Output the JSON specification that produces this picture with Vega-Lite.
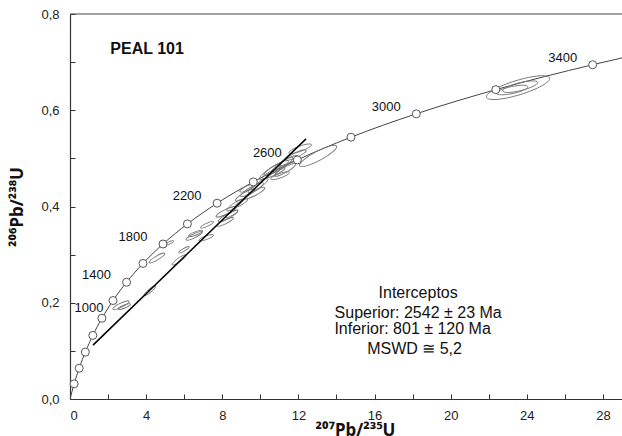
{
  "$schema": "https://vega.github.io/schema/vega-lite/v6.json",
  "width": 552,
  "height": 385,
  "autosize": {"type": "none"},
  "padding": {"left": 70, "top": 14, "right": 0, "bottom": 37},
  "background": "white",
  "config": {
    "view": {"stroke": null},
    "font": "Liberation Sans",
    "axis": {
      "domainColor": "#333",
      "domainWidth": 1.2,
      "tickColor": "#333",
      "tickSize": -5,
      "labelFontSize": 13,
      "labelColor": "#222",
      "labelFont": "Liberation Sans",
      "titleFont": "Noto Sans",
      "titleFontSize": 17,
      "titleFontWeight": "bold",
      "titleColor": "#111",
      "grid": false
    }
  },
  "datasets": {
    "concordia": [
      {"t": 0, "x": 0, "y": 0},
      {"t": 200, "x": 0.2177, "y": 0.0315},
      {"t": 400, "x": 0.4828, "y": 0.0640},
      {"t": 600, "x": 0.8056, "y": 0.0975},
      {"t": 800, "x": 1.1987, "y": 0.1321},
      {"t": 1000, "x": 1.6774, "y": 0.1678, "lab": "1000"},
      {"t": 1200, "x": 2.2602, "y": 0.2046},
      {"t": 1400, "x": 2.9701, "y": 0.2426, "lab": "1400"},
      {"t": 1600, "x": 3.8344, "y": 0.2817},
      {"t": 1800, "x": 4.8868, "y": 0.3221, "lab": "1800"},
      {"t": 2000, "x": 6.1684, "y": 0.3638},
      {"t": 2200, "x": 7.7289, "y": 0.4068, "lab": "2200"},
      {"t": 2400, "x": 9.6292, "y": 0.4511},
      {"t": 2600, "x": 11.9434, "y": 0.4968, "lab": "2600"},
      {"t": 2800, "x": 14.7611, "y": 0.5440},
      {"t": 3000, "x": 18.1924, "y": 0.5926, "lab": "3000"},
      {"t": 3200, "x": 22.3708, "y": 0.6428},
      {"t": 3400, "x": 27.4589, "y": 0.6946, "lab": "3400"},
      {"t": 3600, "x": 33.6545, "y": 0.7480}
    ],
    "discordia": [
      {"x": 1.21, "y": 0.112},
      {"x": 12.4, "y": 0.5405}
    ],
    "frame": [
      {"x": 0, "y": 0.8},
      {"x": 29, "y": 0.8}
    ],
    "ellipses": [
      {"x": 2.68, "y": 0.195, "len": 0.95, "orient": -25},
      {"x": 2.85, "y": 0.192, "len": 0.7, "orient": -22},
      {"x": 4.20, "y": 0.225, "len": 0.79, "orient": -40},
      {"x": 4.57, "y": 0.293, "len": 0.95, "orient": -30},
      {"x": 5.20, "y": 0.324, "len": 0.53, "orient": -25},
      {"x": 5.73, "y": 0.289, "len": 0.89, "orient": -35},
      {"x": 5.99, "y": 0.310, "len": 0.63, "orient": -30},
      {"x": 6.52, "y": 0.339, "len": 0.95, "orient": -25},
      {"x": 6.60, "y": 0.344, "len": 0.8, "orient": -22},
      {"x": 7.15, "y": 0.335, "len": 0.84, "orient": -20},
      {"x": 7.20, "y": 0.362, "len": 0.74, "orient": -25},
      {"x": 8.15, "y": 0.368, "len": 0.95, "orient": -25},
      {"x": 8.30, "y": 0.380, "len": 1.16, "orient": -30},
      {"x": 8.51, "y": 0.385, "len": 0.74, "orient": -30},
      {"x": 8.99, "y": 0.407, "len": 0.79, "orient": -30},
      {"x": 8.67, "y": 0.403, "len": 1.05, "orient": -35},
      {"x": 8.20, "y": 0.389, "len": 1.16, "orient": -25},
      {"x": 9.20, "y": 0.424, "len": 1.16, "orient": -30},
      {"x": 9.56, "y": 0.435, "len": 1.37, "orient": -30},
      {"x": 9.88, "y": 0.443, "len": 1.26, "orient": -35},
      {"x": 9.35, "y": 0.439, "len": 0.95, "orient": -25},
      {"x": 9.70, "y": 0.428, "len": 1.2, "orient": -28},
      {"x": 10.51, "y": 0.472, "len": 1.37, "orient": -35},
      {"x": 10.83, "y": 0.480, "len": 1.47, "orient": -30},
      {"x": 11.14, "y": 0.486, "len": 1.37, "orient": -35},
      {"x": 11.30, "y": 0.476, "len": 1.26, "orient": -30},
      {"x": 11.46, "y": 0.495, "len": 1.16, "orient": -25},
      {"x": 11.04, "y": 0.464, "len": 1.05, "orient": -20},
      {"x": 10.70, "y": 0.470, "len": 1.3, "orient": -25},
      {"x": 12.09, "y": 0.520, "len": 1.26, "orient": -20},
      {"x": 11.88, "y": 0.507, "len": 1.16, "orient": -25},
      {"x": 13.03, "y": 0.505, "len": 2.21, "orient": -28},
      {"x": 23.54, "y": 0.647, "len": 3.47, "orient": -17},
      {"x": 23.23, "y": 0.642, "len": 1.68, "orient": -12},
      {"x": 23.65, "y": 0.649, "len": 1.89, "orient": -14}
    ],
    "notes": [
      {"x": 4.05, "y": 0.728, "text": "PEAL 101", "kind": "sample"},
      {"x": 18.29, "y": 0.2204, "text": "Interceptos", "kind": "box"},
      {"x": 18.29, "y": 0.1788, "text": "Superior: 2542 ± 23 Ma", "kind": "box"},
      {"x": 18.0, "y": 0.1455, "text": "Inferior: 801 ± 120 Ma", "kind": "box"},
      {"x": 18.1, "y": 0.104, "text": "MSWD ≅ 5,2", "kind": "box"}
    ]
  },
  "encoding": {
    "x": {
      "field": "x", "type": "quantitative",
      "scale": {"domain": [0, 29], "nice": false, "zero": true},
      "axis": {
        "title": "²⁰⁷Pb/²³⁵U",
        "values": [0, 2, 4, 6, 8, 10, 12, 14, 16, 18, 20, 22, 24, 26, 28],
        "labelExpr": "datum.value % 4 === 0 ? format(datum.value, 'd') : ''",
        "labelPadding": 15,
        "titlePadding": 0,
        "titleX": 285
      }
    },
    "y": {
      "field": "y", "type": "quantitative",
      "scale": {"domain": [0, 0.8], "nice": false},
      "axis": {
        "title": "²⁰⁶Pb/²³⁸U",
        "values": [0, 0.1, 0.2, 0.3, 0.4, 0.5, 0.6, 0.7, 0.8],
        "labelExpr": "round(datum.value * 10) % 2 === 0 ? replace(format(datum.value, '.1f'), '.', ',') : ''",
        "labelPadding": 16,
        "titlePadding": 14
      }
    }
  },
  "layer": [
    {
      "data": {"name": "frame"},
      "mark": {"type": "line", "color": "#444", "strokeWidth": 1.2, "clip": false}
    },
    {
      "data": {"name": "concordia"},
      "mark": {"type": "line", "color": "#444", "strokeWidth": 1, "interpolate": "monotone", "clip": true}
    },
    {
      "data": {"name": "ellipses"},
      "mark": {
        "type": "point",
        "shape": "M -1 0 A 1 0.22 0 1 1 1 0 A 1 0.22 0 1 1 -1 0 Z",
        "filled": false,
        "color": "#777",
        "strokeWidth": 0.9,
        "opacity": 1
      },
      "encoding": {
        "size": {"field": "len", "type": "quantitative", "scale": {"type": "pow", "exponent": 2, "domain": [0, 1], "range": [0, 362]}, "legend": null},
        "angle": {"field": "orient", "type": "quantitative", "scale": null}
      }
    },
    {
      "data": {"name": "discordia"},
      "mark": {"type": "line", "color": "#000", "strokeWidth": 1.5}
    },
    {
      "data": {"name": "concordia"},
      "transform": [{"filter": "datum.t > 0 && datum.t <= 3400"}],
      "mark": {"type": "point", "shape": "circle", "filled": true, "fill": "white", "stroke": "#555", "strokeWidth": 1, "size": 64, "opacity": 1}
    },
    {
      "data": {"name": "concordia"},
      "transform": [{"filter": "datum.lab && datum.t > 1000"}],
      "mark": {"type": "text", "fontSize": 13, "color": "#111", "align": "center", "baseline": "middle", "dx": -30, "dy": -7},
      "encoding": {"text": {"field": "lab"}}
    },
    {
      "data": {"name": "concordia"},
      "transform": [{"filter": "datum.t === 1000"}],
      "mark": {"type": "text", "fontSize": 13, "color": "#111", "align": "center", "baseline": "middle", "dx": -13, "dy": -10},
      "encoding": {"text": {"field": "lab"}}
    },
    {
      "data": {"name": "notes"},
      "transform": [{"filter": "datum.kind === 'sample'"}],
      "mark": {"type": "text", "fontSize": 16, "fontWeight": "bold", "color": "#111", "align": "center", "baseline": "middle"},
      "encoding": {"text": {"field": "text"}}
    },
    {
      "data": {"name": "notes"},
      "transform": [{"filter": "datum.kind === 'box'"}],
      "mark": {"type": "text", "fontSize": 16, "color": "#111", "align": "center", "baseline": "middle"},
      "encoding": {"text": {"field": "text"}}
    }
  ]
}
